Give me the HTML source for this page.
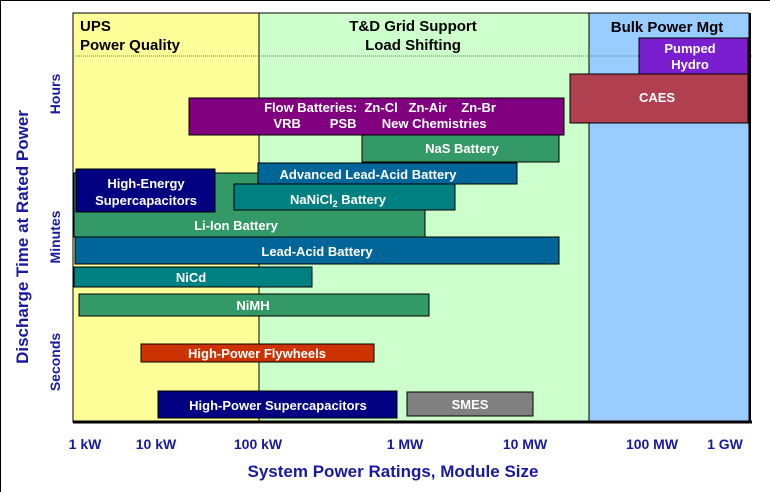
<!DOCTYPE html>
<html><head><meta charset="utf-8"><style>
body{margin:0;background:#fff}
svg{display:block}
text{font-family:"Liberation Sans",Arial,sans-serif;font-weight:bold;white-space:pre}
.w{fill:#fff;font-size:13px;text-anchor:middle}
</style></head><body>
<svg width="770" height="492" viewBox="0 0 770 492" xmlns="http://www.w3.org/2000/svg" xml:space="preserve">
<rect x="0" y="0" width="770" height="492" fill="#fff"/>
<line x1="0" y1="0.5" x2="770" y2="0.5" stroke="#000" stroke-width="1"/>
<line x1="0.5" y1="0" x2="0.5" y2="492" stroke="#000" stroke-width="1"/>
<rect x="73" y="13" width="186" height="409" fill="#ffff99" stroke="#000" stroke-width="1"/>
<rect x="259" y="13" width="330" height="409" fill="#ccffcc" stroke="#000" stroke-width="1"/>
<rect x="589" y="13" width="160" height="409" fill="#99ccff" stroke="#000" stroke-width="1"/>
<line x1="73" y1="56" x2="752" y2="56" stroke="#777" stroke-width="1" stroke-dasharray="1,1"/>
<text x="80" y="31" font-size="15" fill="#000">UPS</text>
<text x="80" y="50" font-size="15" fill="#000">Power Quality</text>
<text x="413" y="31" font-size="15" fill="#000" text-anchor="middle">T&amp;D Grid Support</text>
<text x="413" y="50" font-size="15" fill="#000" text-anchor="middle">Load Shifting</text>
<text x="667" y="32" font-size="15" fill="#000" text-anchor="middle">Bulk Power Mgt</text>
<g stroke="#000" stroke-width="1">
<rect x="639" y="38" width="109" height="36" fill="#7a1fcf"/>
<rect x="570" y="74" width="178" height="49" fill="#b0404f"/>
<rect x="189" y="98" width="375" height="37" fill="#800080"/>
<rect x="362" y="135" width="197" height="27" fill="#339966"/>
<rect x="74" y="173" width="351" height="64" fill="#339966"/>
<rect x="258" y="163" width="259" height="21" fill="#006699"/>
<rect x="76" y="169" width="139" height="43" fill="#000080"/>
<rect x="234" y="184" width="221" height="26" fill="#008080"/>
<rect x="75" y="237" width="484" height="27" fill="#006699"/>
<rect x="74" y="267" width="238" height="20" fill="#008080"/>
<rect x="79" y="294" width="350" height="22" fill="#339966"/>
<rect x="141" y="344" width="233" height="18" fill="#cc3300"/>
<rect x="158" y="391" width="239" height="27" fill="#000080"/>
<rect x="407" y="392" width="126" height="24" fill="#808080"/>
</g>
<text class="w" x="690" y="53">Pumped</text>
<text class="w" x="690" y="69">Hydro</text>
<text class="w" x="657" y="102">CAES</text>
<text class="w" x="380" y="112">Flow Batteries:  Zn-Cl   Zn-Air    Zn-Br</text>
<text class="w" x="380" y="128">VRB        PSB       New Chemistries</text>
<text class="w" x="462" y="153">NaS Battery</text>
<text class="w" x="368" y="179">Advanced Lead-Acid Battery</text>
<text class="w" x="146" y="188">High-Energy</text>
<text class="w" x="146" y="205">Supercapacitors</text>
<text class="w" x="338" y="204">NaNiCl<tspan font-size="9" dy="3">2</tspan><tspan dy="-3"> Battery</tspan></text>
<text class="w" x="236" y="230">Li-Ion Battery</text>
<text class="w" x="317" y="256">Lead-Acid Battery</text>
<text class="w" x="191" y="282">NiCd</text>
<text class="w" x="253" y="310">NiMH</text>
<text class="w" x="257" y="358">High-Power Flywheels</text>
<text class="w" x="278" y="410">High-Power Supercapacitors</text>
<text class="w" x="470" y="409">SMES</text>
<line x1="73" y1="422" x2="752" y2="422" stroke="#000" stroke-width="3"/>
<line x1="750" y1="13" x2="750" y2="422" stroke="#000" stroke-width="2"/>
<g font-size="14" text-anchor="middle" fill="#1a1aa0">
<text x="85" y="449">1 kW</text>
<text x="156" y="449">10 kW</text>
<text x="258" y="449">100 kW</text>
<text x="405" y="449">1 MW</text>
<text x="525" y="449">10 MW</text>
<text x="652" y="449">100 MW</text>
<text x="725" y="449">1 GW</text>
</g>
<text x="393" y="477" font-size="17" fill="#1a1aa0" text-anchor="middle">System Power Ratings, Module Size</text>
<text transform="translate(28,237) rotate(-90)" font-size="17" fill="#1a1aa0" text-anchor="middle">Discharge Time at Rated Power</text>
<text transform="translate(60,94) rotate(-90)" font-size="14" fill="#1a1aa0" text-anchor="middle">Hours</text>
<text transform="translate(60,237) rotate(-90)" font-size="14" fill="#1a1aa0" text-anchor="middle">Minutes</text>
<text transform="translate(60,362) rotate(-90)" font-size="14" fill="#1a1aa0" text-anchor="middle">Seconds</text>
</svg>
</body></html>
